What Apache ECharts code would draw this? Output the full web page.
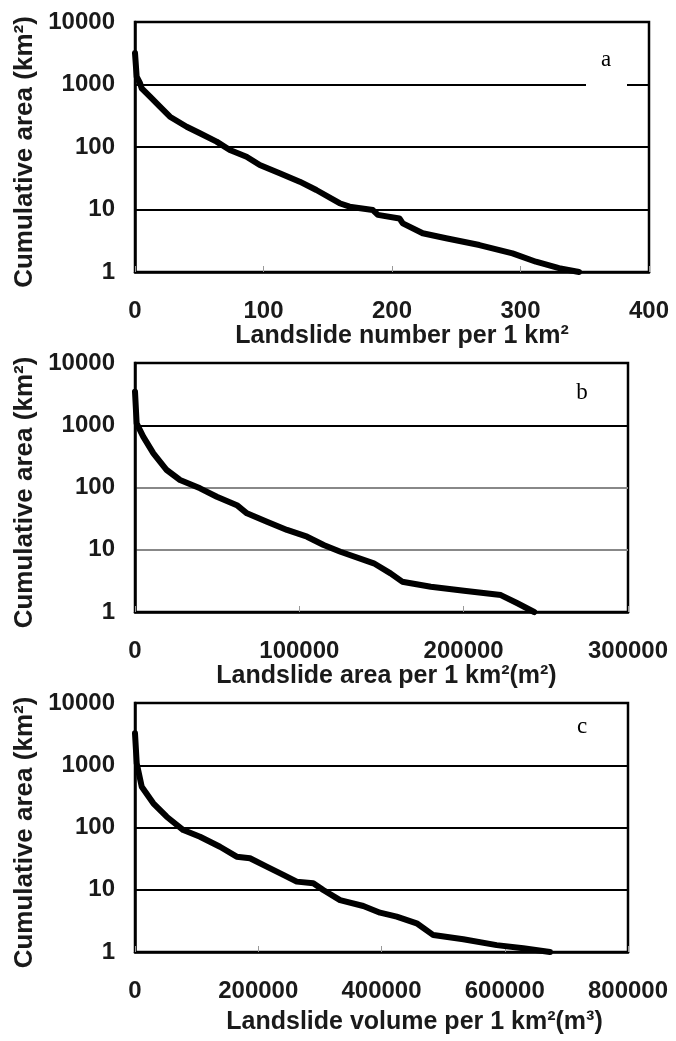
<!DOCTYPE html>
<html>
<head>
<meta charset="utf-8">
<title>Cumulative area</title>
<script src="https://cdn.jsdelivr.net/npm/echarts@6/dist/echarts.min.js"></script>
<style>
  html, body { margin: 0; padding: 0; background: #fff; }
  #chart { width: 676px; height: 1041px; }
</style>
</head>
<body>
<div id="chart"></div>
<script>
// panel a: landslide number per 1 km2
var aX = [0, 1.3, 3.9, 5.2, 11.7, 19.4, 27.2, 40.2, 50.5, 63.5, 73.8, 86.8, 97.1, 112.6, 128.2, 141.1, 159.2, 167, 185.1, 189, 205.8, 208.4, 223.9, 242.1, 268, 293.8, 312, 330, 345.6]
var aY = [3200, 1330, 1050, 870, 638, 441, 305, 211, 166, 122, 89.5, 70, 51.5, 38, 27.9, 20.5, 12.6, 11.1, 9.8, 8.2, 7.2, 6.0, 4.16, 3.46, 2.7, 1.99, 1.46, 1.15, 1]

// panel b: landslide area per 1 km2 (m2)
var bX = [0, 1000, 5000, 11200, 19300, 27400, 39600, 49800, 62000, 68100, 80300, 92500, 104700, 114800, 125000, 145300, 155500, 162600, 180000, 200200, 222600, 232700, 242900]
var bY = [3460, 1070, 655, 354, 191, 132, 97, 71, 52, 38.5, 28.2, 20.8, 16.2, 11.9, 9.3, 6.06, 4.18, 3.07, 2.55, 2.2, 1.87, 1.38, 1]

// panel c: landslide volume per 1 km2 (m3)
var cX = [0, 2800, 10900, 29700, 51400, 78400, 105500, 137900, 165000, 186600, 213700, 240700, 262400, 289300, 305500, 332700, 370500, 397600, 424700, 457100, 484100, 532800, 586900, 630100, 673400]
var cY = [3260, 1070, 452, 245, 149, 91, 71, 49, 34, 32, 23.5, 17.3, 13.5, 12.7, 9.9, 6.8, 5.48, 4.28, 3.69, 2.89, 1.87, 1.6, 1.29, 1.15, 1]

var xMax = [400, 300000, 800000]
var xStep = [100, 100000, 200000]
var xNames = ['Landslide number per 1 km²', 'Landslide area per 1 km²(m²)', 'Landslide volume per 1 km²(m³)']
var yName = 'Cumulative area (km²)'
var panelTags = ['a', 'b', 'c']

var font = 'Arial, "Liberation Sans", sans-serif'
var txt = '#1a1a1a'

var chart = echarts.init(document.getElementById('chart'))

function pairs(xs, ys) {
  return xs.map(function (x, i) { return [x, ys[i]] })
}

var grids = [
  { left: 135, top: 22, width: 514, height: 250 },
  { left: 135, top: 363, width: 493, height: 249 },
  { left: 135, top: 703, width: 493, height: 249 }
]
// gridline colours per tick (1, 10, 100, 1000, 10000)
var splitColors = [
  ['#000', '#000', '#000', '#000', '#000'],
  ['#000', '#888', '#888', '#000', '#000'],
  ['#000', '#000', '#000', '#000', '#000']
]
var nameGaps = [48, 44, 58]
var namePads = [[0, 0, 0, 20], [0, 0, 0, 10], [0, 0, 0, 66]]

var xAxes = [], yAxes = []
grids.forEach(function (g, i) {
  g.show = true
  g.borderColor = '#000'
  g.borderWidth = 2.5
  xAxes.push({
    type: 'value',
    gridIndex: i,
    min: 0,
    max: xMax[i],
    interval: xStep[i],
    name: xNames[i],
    nameLocation: 'middle',
    nameGap: nameGaps[i],
    nameTextStyle: { fontFamily: font, fontSize: 25, fontWeight: 'bold', color: txt, padding: namePads[i] },
    axisLine: { lineStyle: { color: '#000', width: 2.5 } },
    axisTick: { inside: true, length: 6, lineStyle: { color: '#999', width: 1 } },
    axisLabel: {
      margin: 27, fontFamily: font, fontSize: 24, fontWeight: 'bold', color: txt,
      showMaxLabel: true, formatter: function (v) { return String(v) }
    },
    splitLine: { show: false }
  })
  yAxes.push({
    type: 'log',
    logBase: 10,
    gridIndex: i,
    min: 1,
    max: 10000,
    name: yName,
    nameLocation: 'middle',
    nameGap: 94,
    nameTextStyle: { fontFamily: font, fontSize: 26, fontWeight: 'bold', color: txt, padding: [0, 10, 0, 0] },
    axisLine: { lineStyle: { color: '#000', width: 2.5 } },
    axisTick: { show: false },
    axisLabel: {
      margin: 20, fontFamily: font, fontSize: 24, fontWeight: 'bold', color: txt,
      formatter: function (v) { return String(Math.round(v)) }
    },
    splitLine: { show: true, lineStyle: { color: splitColors[i], width: 2 } }
  })
})

var seriesData = [pairs(aX, aY), pairs(bX, bY), pairs(cX, cY)]
var series = seriesData.map(function (d, i) {
  return {
    type: 'line',
    xAxisIndex: i,
    yAxisIndex: i,
    data: d,
    symbol: 'none',
    clip: false,
    z: 5,
    lineStyle: { color: '#000', width: 6, join: 'round', cap: 'round' }
  }
})

var tagPos = [[606, 60], [582, 393], [582, 727]]
var graphics = []
// white patch behind "a" that breaks the 1000 gridline
graphics.push({ type: 'rect', x: 586, y: 44, shape: { width: 41, height: 44 }, style: { fill: '#fff' }, z: 10 })
panelTags.forEach(function (t, i) {
  graphics.push({
    type: 'text', x: tagPos[i][0], y: tagPos[i][1], z: 11,
    style: { text: t, fill: '#000', font: '23px "Liberation Serif", "Times New Roman", serif', textAlign: 'center', textVerticalAlign: 'middle' }
  })
})

chart.setOption({
  animation: false,
  backgroundColor: '#fff',
  grid: grids,
  xAxis: xAxes,
  yAxis: yAxes,
  series: series,
  graphic: graphics
})
</script>
</body>
</html>
